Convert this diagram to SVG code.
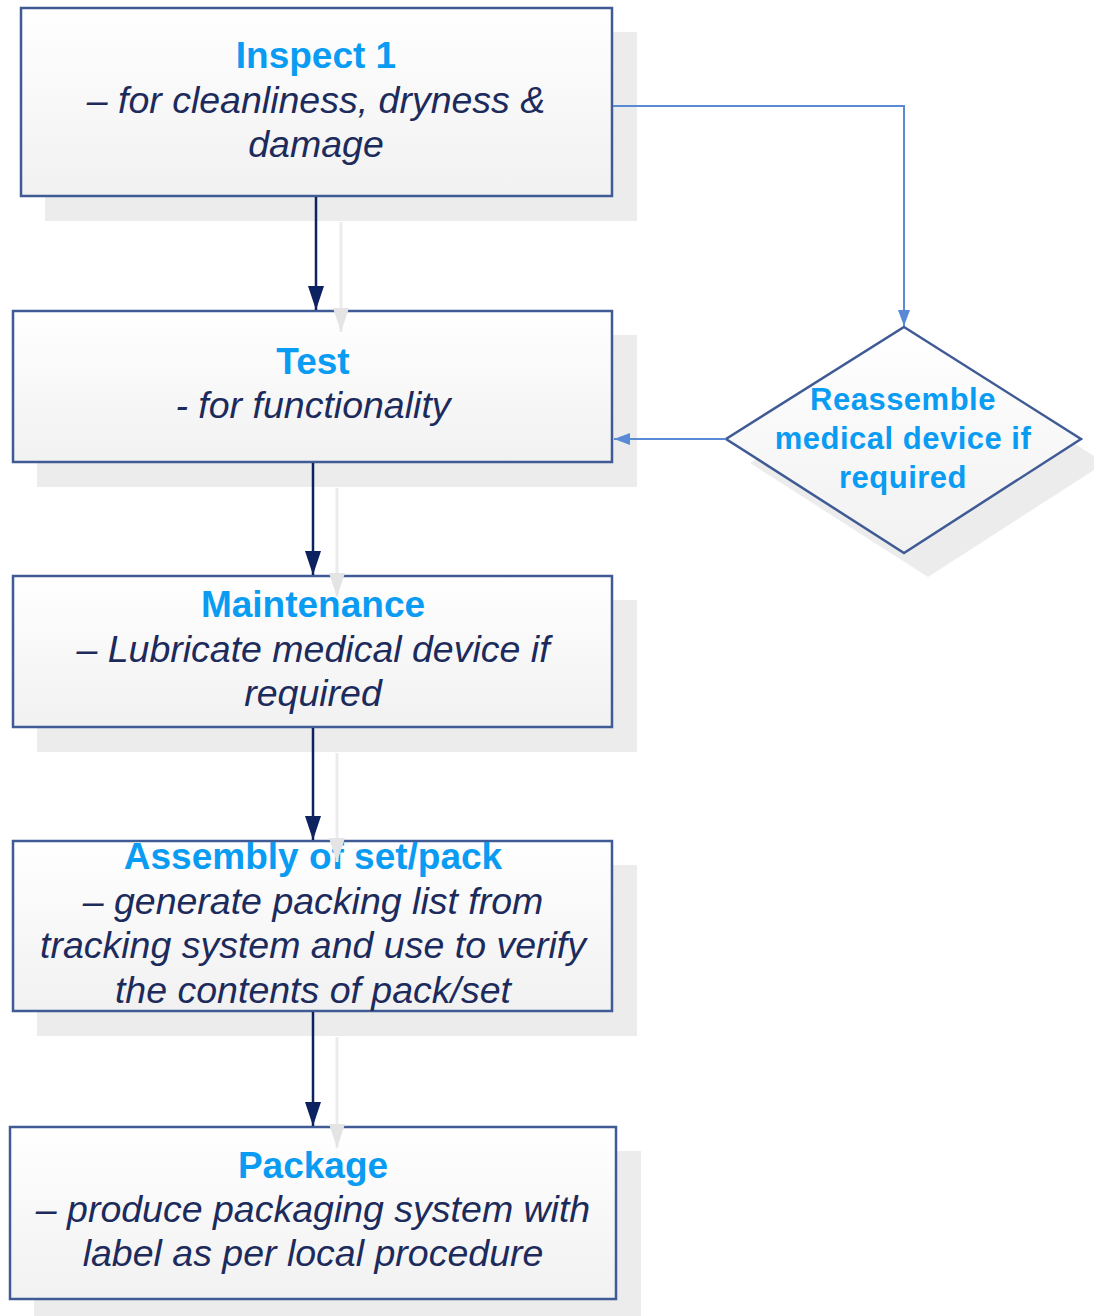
<svg xmlns="http://www.w3.org/2000/svg" width="1094" height="1316" viewBox="0 0 1094 1316">
<defs>
<linearGradient id="fillg" x1="0" y1="0" x2="0" y2="1">
<stop offset="0" stop-color="#ffffff"/>
<stop offset="1" stop-color="#f1f1f1"/>
</linearGradient>
<marker id="arrN" markerWidth="24" markerHeight="16" refX="24" refY="8" orient="auto" markerUnits="userSpaceOnUse" viewBox="0 0 24 16">
<path d="M0,0 L24,8 L0,16 Z" fill="#0d2260"/>
</marker>
<marker id="arrS" markerWidth="24" markerHeight="16" refX="24" refY="8" orient="auto" markerUnits="userSpaceOnUse" viewBox="0 0 24 16">
<path d="M0,0 L24,8 L0,16 Z" fill="#e4e4e4"/>
</marker>
<marker id="arrB" markerWidth="16" markerHeight="12" refX="16" refY="6" orient="auto" markerUnits="userSpaceOnUse" viewBox="0 0 16 12">
<path d="M0,0 L16,6 L0,12 Z" fill="#5a8ad6"/>
</marker>
</defs>
<style>
.shadow{fill:#ececec;stroke:none}
.sline{stroke:#ececec;stroke-width:3;fill:none}
.box{fill:url(#fillg);stroke:#3f5a94;stroke-width:2.5}
.title{font-family:"Liberation Sans",Arial,sans-serif;font-weight:bold;font-size:37px;fill:#0a9cf2;text-anchor:middle}
.sub{font-family:"Liberation Sans",Arial,sans-serif;font-style:italic;font-size:37.5px;fill:#1c2b5c;text-anchor:middle}
.dtext{font-family:"Liberation Sans",Arial,sans-serif;font-weight:bold;font-size:31px;fill:#0a9cf2;text-anchor:middle;letter-spacing:0.5px}
.conN{stroke:#0d2260;stroke-width:2.5;fill:none}
.conB{stroke:#5a8ad6;stroke-width:2;fill:none}
</style>
<rect width="1094" height="1316" fill="#ffffff"/>
<g id="shadows">
<rect class="shadow" x="45" y="32" width="592" height="189"/>
<rect class="shadow" x="37" y="335" width="600" height="152"/>
<rect class="shadow" x="37" y="600" width="600" height="152"/>
<rect class="shadow" x="37" y="865" width="600" height="171"/>
<rect class="shadow" x="34" y="1151" width="607" height="165"/>
<polygon class="shadow" points="928,351 1105,463 928,577 750,463"/>
</g>
<g id="node-inspect">
<rect class="box" x="21" y="8" width="591" height="188"/>
<text class="title" x="316" y="68">Inspect 1</text>
<text class="sub" x="316" y="113">– for cleanliness, dryness &amp;</text>
<text class="sub" x="316" y="157">damage</text>
</g>
<g id="node-test">
<rect class="box" x="13" y="311" width="599" height="151"/>
<text class="title" x="313" y="374">Test</text>
<text class="sub" x="313" y="418">- for functionality</text>
</g>
<g id="node-maintenance">
<rect class="box" x="13" y="576" width="599" height="151"/>
<text class="title" x="313" y="617">Maintenance</text>
<text class="sub" x="313" y="662">– Lubricate medical device if</text>
<text class="sub" x="313" y="706">required</text>
</g>
<g id="node-assembly">
<rect class="box" x="13" y="841" width="599" height="170"/>
<text class="title" x="313" y="869">Assembly of set/pack</text>
<text class="sub" x="313" y="914">– generate packing list from</text>
<text class="sub" x="313" y="958">tracking system and use to verify</text>
<text class="sub" x="313" y="1003">the contents of pack/set</text>
</g>
<g id="node-package">
<rect class="box" x="10" y="1127" width="606" height="172"/>
<text class="title" x="313" y="1178">Package</text>
<text class="sub" x="313" y="1222">– produce packaging system with</text>
<text class="sub" x="313" y="1266">label as per local procedure</text>
</g>
<g id="node-reassemble">
<polygon class="box" points="904,327 1081,439 904,553 726,439"/>
<text class="dtext" x="903" y="410">Reassemble</text>
<text class="dtext" x="903" y="449">medical device if</text>
<text class="dtext" x="903" y="488">required</text>
</g>
<g id="connectors">
<line class="sline" x1="341" y1="222" x2="341" y2="332" marker-end="url(#arrS)"/>
<line class="sline" x1="337" y1="488" x2="337" y2="597" marker-end="url(#arrS)"/>
<line class="sline" x1="337" y1="753" x2="337" y2="862" marker-end="url(#arrS)"/>
<line class="sline" x1="337" y1="1037" x2="337" y2="1148" marker-end="url(#arrS)"/>
<line class="conN" x1="316" y1="197" x2="316" y2="310" marker-end="url(#arrN)"/>
<line class="conN" x1="313" y1="463" x2="313" y2="575" marker-end="url(#arrN)"/>
<line class="conN" x1="313" y1="728" x2="313" y2="840" marker-end="url(#arrN)"/>
<line class="conN" x1="313" y1="1012" x2="313" y2="1126" marker-end="url(#arrN)"/>
<polyline class="conB" points="613,106 904,106 904,326" marker-end="url(#arrB)"/>
<line class="conB" x1="726" y1="439" x2="614" y2="439" marker-end="url(#arrB)"/>
</g>
</svg>
